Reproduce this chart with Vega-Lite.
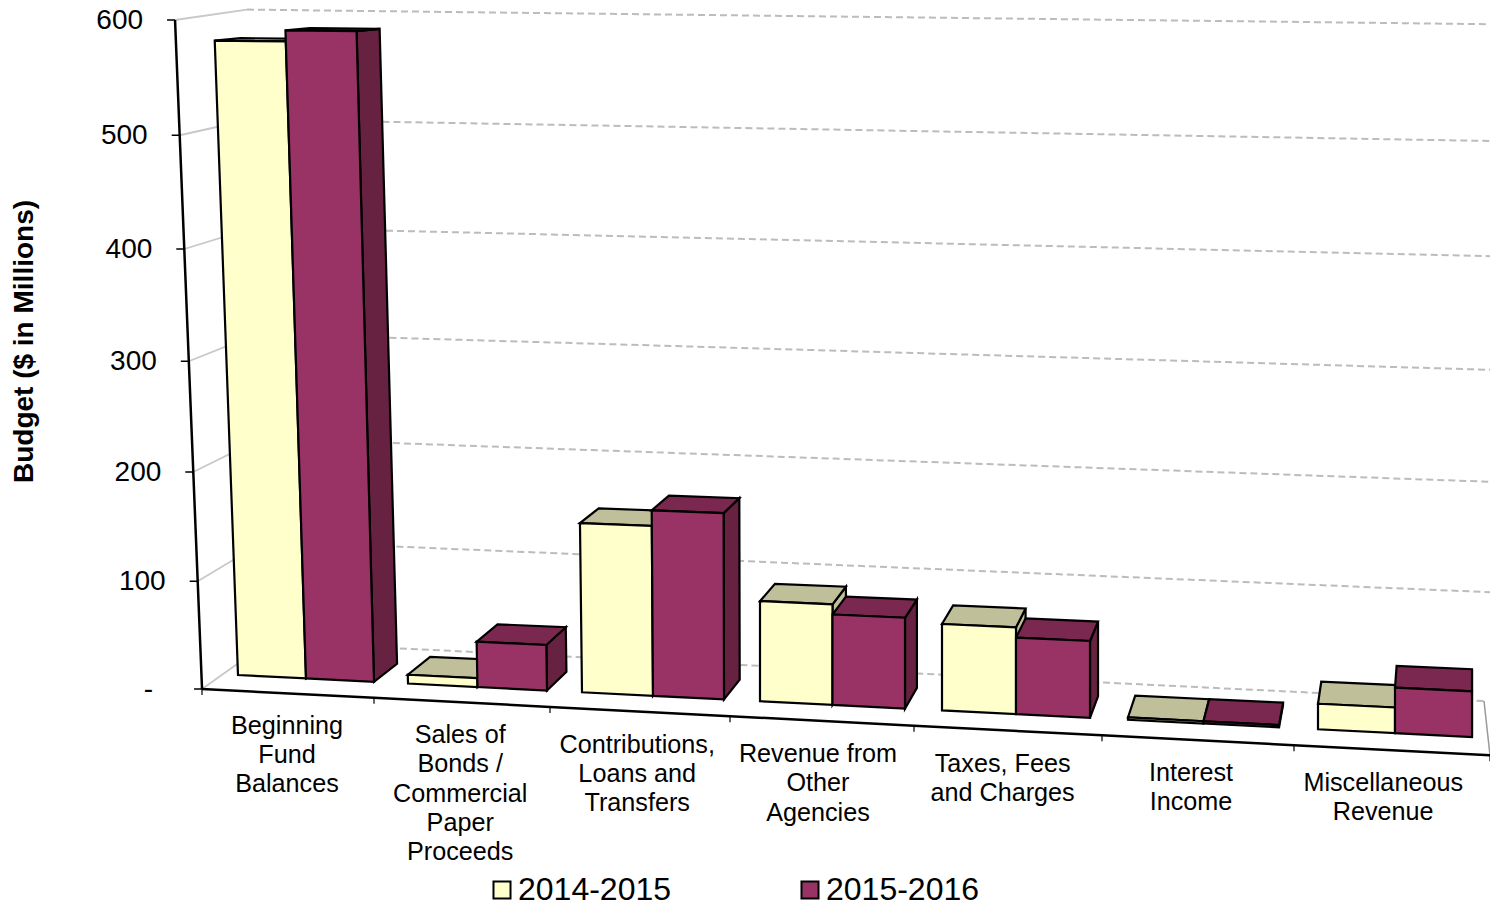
{
"$schema":"https://vega.github.io/schema/vega-lite/v6.json",
"width":1490,"height":906,"padding":0,"autosize":{"type":"none"},
"background":"white",
"config":{"view":{"stroke":null},"text":{"font":"Liberation Sans","color":"#000"}},
"resolve":{"axis":{"y":"independent","x":"independent"}},
"datasets":{
"bars":[
{"category":"Beginning Fund Balances","year":"2014-2015","budget":582},
{"category":"Beginning Fund Balances","year":"2015-2016","budget":592},
{"category":"Sales of Bonds / Commercial Paper Proceeds","year":"2014-2015","budget":8},
{"category":"Sales of Bonds / Commercial Paper Proceeds","year":"2015-2016","budget":41},
{"category":"Contributions, Loans and Transfers","year":"2014-2015","budget":152},
{"category":"Contributions, Loans and Transfers","year":"2015-2016","budget":166},
{"category":"Revenue from Other Agencies","year":"2014-2015","budget":89},
{"category":"Revenue from Other Agencies","year":"2015-2016","budget":80},
{"category":"Taxes, Fees and Charges","year":"2014-2015","budget":76},
{"category":"Taxes, Fees and Charges","year":"2015-2016","budget":67},
{"category":"Interest Income","year":"2014-2015","budget":2},
{"category":"Interest Income","year":"2015-2016","budget":2},
{"category":"Miscellaneous Revenue","year":"2014-2015","budget":22},
{"category":"Miscellaneous Revenue","year":"2015-2016","budget":39}
],
"labels":[
{"label":"Beginning\nFund\nBalances"},
{"label":"Sales of\nBonds /\nCommercial\nPaper\nProceeds"},
{"label":"Contributions,\nLoans and\nTransfers"},
{"label":"Revenue from\nOther\nAgencies"},
{"label":"Taxes, Fees\nand Charges"},
{"label":"Interest\nIncome"},
{"label":"Miscellaneous\nRevenue"}
],
"yticks":[{"v":0},{"v":100},{"v":200},{"v":300},{"v":400},{"v":500},{"v":600}],
"floorticks":[{"n":0},{"n":1},{"n":2},{"n":3},{"n":4},{"n":5},{"n":6},{"n":7}]
},
"layer":[
{"data":{"name":"yticks"},
 "resolve":{"axis":{"y":"independent","x":"independent"}},
 "transform":[
  {"calculate":"689-1.07*datum.v-7.5e-5*datum.v*datum.v","as":"ty"},
  {"calculate":"175+(datum.ty-19)*27/669","as":"ax"},
  {"calculate":"datum.ax-8","as":"tx"},
  {"calculate":"268-0.035*datum.v","as":"xL"},
  {"calculate":"642-(1+0.00009*datum.v)*datum.v","as":"yL"},
  {"calculate":"datum.v==0?1484:1490","as":"xR"},
  {"calculate":"701-(1.08+0.00008*datum.v)*datum.v","as":"yR"},
  {"calculate":"datum.v==0?153:datum.ax-32","as":"lx"},
  {"calculate":"datum.v==0?'-':''+datum.v","as":"lab"}
 ],
 "layer":[
  {"mark":{"type":"rule","color":"#c8c8c8","strokeWidth":1.8},
   "encoding":{
    "x":{"field":"ax","type":"quantitative","axis":null,"scale":{"domain":[0,1490],"nice":false,"zero":false}},
    "y":{"field":"ty","type":"quantitative","scale":{"domain":[906,0],"nice":false,"zero":false},
      "axis":{"title":"Budget ($ in Millions)","labels":false,"ticks":false,"domain":false,"grid":false,"titleX":32,"titleY":341,"titleAngle":-90,"titleFont":"Liberation Sans","titleFontSize":28,"titleFontWeight":"bold","titleColor":"#000","titleBaseline":"alphabetic","titleAlign":"center"}},
    "x2":{"field":"xL"},"y2":{"field":"yL"}}},
  {"mark":{"type":"rule","color":"#bcbcbc","strokeWidth":2,"strokeDash":[7,4]},
   "encoding":{
    "x":{"field":"xL","type":"quantitative","axis":null,"scale":{"domain":[0,1490],"nice":false,"zero":false}},
    "y":{"field":"yL","type":"quantitative","axis":null,"scale":{"domain":[906,0],"nice":false,"zero":false}},
    "x2":{"field":"xR"},"y2":{"field":"yR"}}},
  {"mark":{"type":"line","color":"#000","strokeWidth":2.5},
   "encoding":{
    "x":{"field":"ax","type":"quantitative","axis":null,"scale":{"domain":[0,1490],"nice":false,"zero":false}},
    "y":{"field":"ty","type":"quantitative","axis":null,"scale":{"domain":[906,0],"nice":false,"zero":false}},
    "order":{"field":"v"}}},
  {"mark":{"type":"rule","color":"#000","strokeWidth":1.5},
   "encoding":{
    "x":{"field":"tx","type":"quantitative","axis":null,"scale":{"domain":[0,1490],"nice":false,"zero":false}},
    "y":{"field":"ty","type":"quantitative","axis":null,"scale":{"domain":[906,0],"nice":false,"zero":false}},
    "x2":{"field":"ax"},"y2":{"field":"ty"}}},
  {"mark":{"type":"text","fontSize":28,"align":"right","baseline":"middle","dy":1},
   "encoding":{
    "x":{"field":"lx","type":"quantitative","axis":null,"scale":{"domain":[0,1490],"nice":false,"zero":false}},
    "y":{"field":"ty","type":"quantitative","axis":null,"scale":{"domain":[906,0],"nice":false,"zero":false}},
    "text":{"field":"lab","type":"nominal"}}}
 ]},
{"data":{"name":"floorticks"},
 "transform":[
  {"calculate":"202+170*datum.n+2*datum.n*datum.n","as":"fx"},
  {"calculate":"689+0.0515*(datum.fx-202)","as":"fy"},
  {"calculate":"datum.fy+6","as":"fy2"},
  {"calculate":"1484","as":"cx"},
  {"calculate":"701","as":"cy"}
 ],
 "layer":[
  {"transform":[{"filter":"datum.n==7"}],
   "mark":{"type":"rule","color":"#999999","strokeWidth":1.5},
   "encoding":{
    "x":{"field":"fx","type":"quantitative","axis":null,"scale":{"domain":[0,1490],"nice":false,"zero":false}},
    "y":{"field":"fy","type":"quantitative","axis":null,"scale":{"domain":[906,0],"nice":false,"zero":false}},
    "x2":{"field":"cx"},"y2":{"field":"cy"}}},
  {"mark":{"type":"line","color":"#000","strokeWidth":2.5},
   "encoding":{
    "x":{"field":"fx","type":"quantitative","axis":null,"scale":{"domain":[0,1490],"nice":false,"zero":false}},
    "y":{"field":"fy","type":"quantitative","axis":null,"scale":{"domain":[906,0],"nice":false,"zero":false}},
    "order":{"field":"n"}}},
  {"mark":{"type":"rule","color":"#000","strokeWidth":1.2},
   "encoding":{
    "x":{"field":"fx","type":"quantitative","axis":null,"scale":{"domain":[0,1490],"nice":false,"zero":false}},
    "y":{"field":"fy","type":"quantitative","axis":null,"scale":{"domain":[906,0],"nice":false,"zero":false}},
    "y2":{"field":"fy2"}}}
 ]},
{"data":{"name":"labels"},
 "transform":[
  {"window":[{"op":"row_number","as":"rn"}]},
  {"calculate":"datum.rn-1","as":"i"},
  {"calculate":"287+171.3*datum.i+1.9*datum.i*datum.i","as":"lx"},
  {"calculate":"713.5+9.5*datum.i","as":"ly"}
 ],
 "mark":{"type":"text","fontSize":25.2,"align":"center","baseline":"top","lineBreak":"\n","lineHeight":29.3},
 "encoding":{
  "x":{"field":"lx","type":"quantitative","axis":null,"scale":{"domain":[0,1490],"nice":false,"zero":false}},
  "y":{"field":"ly","type":"quantitative","axis":null,"scale":{"domain":[906,0],"nice":false,"zero":false}},
  "text":{"field":"label","type":"nominal"}}},
{"data":{"name":"bars"},
 "resolve":{"scale":{"fill":"independent"},"axis":{"x":"independent","y":"independent"}},
 "transform":[
  {"calculate":"indexof(['Beginning Fund Balances','Sales of Bonds / Commercial Paper Proceeds','Contributions, Loans and Transfers','Revenue from Other Agencies','Taxes, Fees and Charges','Interest Income','Miscellaneous Revenue'],datum.category)","as":"i"},
  {"calculate":"datum.year=='2014-2015'?0:1","as":"s"},
  {"calculate":"68+1.5*datum.i","as":"w"},
  {"calculate":"238+168*datum.i+2*datum.i*datum.i+datum.s*datum.w","as":"x0"},
  {"calculate":"datum.x0+datum.w","as":"x1"},
  {"calculate":"675+0.0503*(datum.x0-238)","as":"yb0"},
  {"calculate":"675+0.0503*(datum.x1-238)","as":"yb1"},
  {"calculate":"datum.yb0-datum.budget*(1.09+0.000067*(datum.x0-238))","as":"yt0"},
  {"calculate":"datum.yb1-datum.budget*(1.09+0.000067*(datum.x1-238))","as":"yt1"},
  {"calculate":"datum.x1-max(0,24*(754-datum.x1)/516)*datum.budget/600","as":"tx1"},
  {"calculate":"0.021*(1472-datum.x1)","as":"d1x"},
  {"calculate":"18+0.005*(datum.x1-374)","as":"e1"},
  {"calculate":"-datum.e1*(1-datum.budget/680)","as":"d1y"},
  {"calculate":"'M'+(datum.tx1-datum.x0)+' '+(datum.yt1-datum.yb0)+'L'+(datum.tx1+datum.d1x-datum.x0)+' '+(datum.yt1+datum.d1y-datum.yb0)+'L'+(datum.x1+datum.d1x-datum.x0)+' '+(datum.yb1-datum.e1-datum.yb0)+'L'+(datum.x1-datum.x0)+' '+(datum.yb1-datum.yb0)+'Z'","as":"pSide"}
 ],
 "layer":[{
 "mark":{"type":"point","filled":true,"size":4,"opacity":1,"stroke":"#000","strokeWidth":2.2},
 "encoding":{
    "x":{"field":"x0","type":"quantitative","axis":null,"scale":{"domain":[0,1490],"nice":false,"zero":false}},
    "y":{"field":"yb0","type":"quantitative","axis":null,"scale":{"domain":[906,0],"nice":false,"zero":false}},
    "shape":{"field":"pSide","type":"nominal","scale":null},
    "fill":{"field":"year","type":"nominal","legend":null,"scale":{"domain":["2014-2015","2015-2016"],"range":["#BFBF99","#662240"]}},
    "order":{"field":"s"}}
 }]
},
{"data":{"name":"bars"},
 "transform":[
  {"calculate":"indexof(['Beginning Fund Balances','Sales of Bonds / Commercial Paper Proceeds','Contributions, Loans and Transfers','Revenue from Other Agencies','Taxes, Fees and Charges','Interest Income','Miscellaneous Revenue'],datum.category)","as":"i"},
  {"calculate":"datum.year=='2014-2015'?0:1","as":"s"},
  {"calculate":"68+1.5*datum.i","as":"w"},
  {"calculate":"238+168*datum.i+2*datum.i*datum.i+datum.s*datum.w","as":"x0"},
  {"calculate":"datum.x0+datum.w","as":"x1"},
  {"calculate":"675+0.0503*(datum.x0-238)","as":"yb0"},
  {"calculate":"675+0.0503*(datum.x1-238)","as":"yb1"},
  {"calculate":"datum.yb0-datum.budget*(1.09+0.000067*(datum.x0-238))","as":"yt0"},
  {"calculate":"datum.yb1-datum.budget*(1.09+0.000067*(datum.x1-238))","as":"yt1"},
  {"calculate":"datum.x0-max(0,24*(754-datum.x0)/516)*datum.budget/600","as":"tx0"},
  {"calculate":"datum.x1-max(0,24*(754-datum.x1)/516)*datum.budget/600","as":"tx1"},
  {"calculate":"0.021*(1472-datum.x0)","as":"d0x"},
  {"calculate":"0.021*(1472-datum.x1)","as":"d1x"},
  {"calculate":"18+0.005*(datum.x0-374)","as":"e0"},
  {"calculate":"18+0.005*(datum.x1-374)","as":"e1"},
  {"calculate":"-datum.e0*(1-datum.budget/680)","as":"d0y"},
  {"calculate":"-datum.e1*(1-datum.budget/680)","as":"d1y"},
  {"calculate":"'M'+(datum.tx0-datum.x0)+' '+(datum.yt0-datum.yb0)+'L'+(datum.tx1-datum.x0)+' '+(datum.yt1-datum.yb0)+'L'+(datum.tx1+datum.d1x-datum.x0)+' '+(datum.yt1+datum.d1y-datum.yb0)+'L'+(datum.tx0+datum.d0x-datum.x0)+' '+(datum.yt0+datum.d0y-datum.yb0)+'Z'","as":"pTop"}
 ],
 "mark":{"type":"point","filled":true,"size":4,"opacity":1,"stroke":"#000","strokeWidth":2.2},
 "encoding":{
    "x":{"field":"x0","type":"quantitative","axis":null,"scale":{"domain":[0,1490],"nice":false,"zero":false}},
    "y":{"field":"yb0","type":"quantitative","axis":null,"scale":{"domain":[906,0],"nice":false,"zero":false}},
    "shape":{"field":"pTop","type":"nominal","scale":null},
    "color":{"field":"year","type":"nominal","legend":null,"scale":{"domain":["2015-2016","2014-2015"],"range":["#7A2850","#BFBF99"]}},
    "order":{"field":"s"}}
},
{"data":{"name":"bars"},
 "transform":[
  {"calculate":"indexof(['Beginning Fund Balances','Sales of Bonds / Commercial Paper Proceeds','Contributions, Loans and Transfers','Revenue from Other Agencies','Taxes, Fees and Charges','Interest Income','Miscellaneous Revenue'],datum.category)","as":"i"},
  {"calculate":"datum.year=='2014-2015'?0:1","as":"s"},
  {"calculate":"68+1.5*datum.i","as":"w"},
  {"calculate":"238+168*datum.i+2*datum.i*datum.i+datum.s*datum.w","as":"x0"},
  {"calculate":"datum.x0+datum.w","as":"x1"},
  {"calculate":"675+0.0503*(datum.x0-238)","as":"yb0"},
  {"calculate":"675+0.0503*(datum.x1-238)","as":"yb1"},
  {"calculate":"datum.yb0-datum.budget*(1.09+0.000067*(datum.x0-238))","as":"yt0"},
  {"calculate":"datum.yb1-datum.budget*(1.09+0.000067*(datum.x1-238))","as":"yt1"},
  {"calculate":"datum.x0-max(0,24*(754-datum.x0)/516)*datum.budget/600","as":"tx0"},
  {"calculate":"datum.x1-max(0,24*(754-datum.x1)/516)*datum.budget/600","as":"tx1"},
  {"calculate":"'M'+(datum.tx0-datum.x0)+' '+(datum.yt0-datum.yb0)+'L'+(datum.tx1-datum.x0)+' '+(datum.yt1-datum.yb0)+'L'+(datum.x1-datum.x0)+' '+(datum.yb1-datum.yb0)+'L0 0Z'","as":"pFront"}
 ],
 "mark":{"type":"point","filled":true,"size":4,"opacity":1,"stroke":"#000","strokeWidth":2.2},
 "encoding":{
    "x":{"field":"x0","type":"quantitative","axis":null,"scale":{"domain":[0,1490],"nice":false,"zero":false}},
    "y":{"field":"yb0","type":"quantitative","axis":null,"scale":{"domain":[906,0],"nice":false,"zero":false}},
    "shape":{"field":"pFront","type":"nominal","scale":null},
    "fill":{"field":"year","type":"nominal","scale":{"domain":["2014-2015","2015-2016"],"range":["#FFFFCC","#993366"]},
      "legend":{"title":null,"orient":"none","legendX":486,"legendY":874,"direction":"horizontal","labelFont":"Liberation Sans","labelFontSize":32,"labelColor":"#000","symbolType":"square","symbolSize":290,"symbolStrokeColor":"#000","symbolStrokeWidth":2,"symbolOpacity":1,"columnPadding":122,"labelOffset":0,"labelLimit":300}},
    "order":{"field":"s"}}
}
]
}
